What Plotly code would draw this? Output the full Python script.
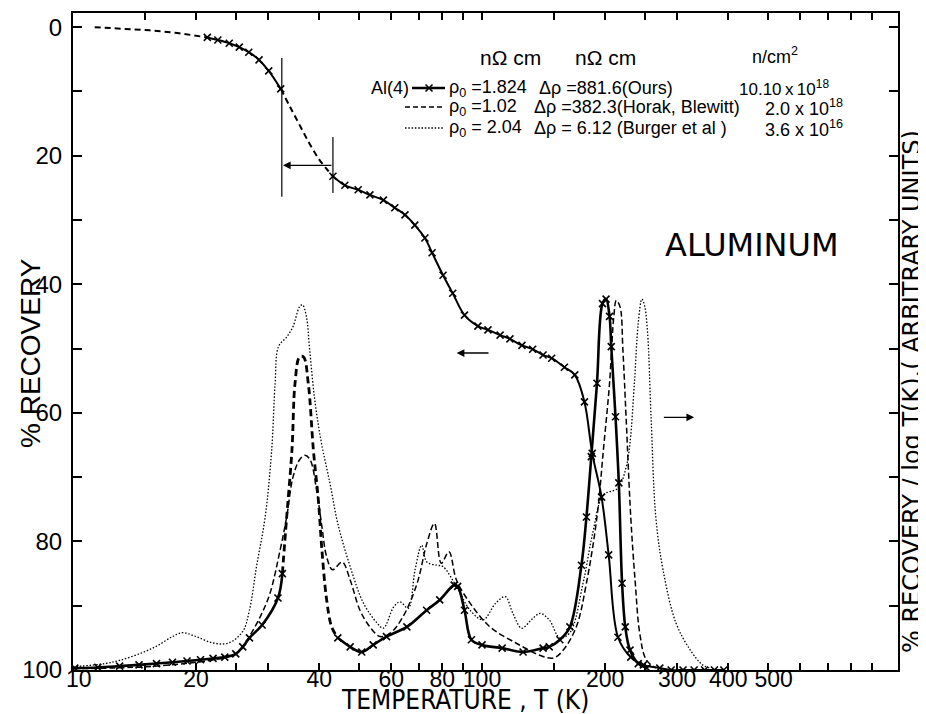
import math
import plotly.graph_objects as go

# ---------------- data ----------------
# Isochronal recovery curve (left axis, % recovery), "Ours"
rec_dash1_T = [11.3, 15.4, 18.0, 21.3]
rec_dash1_v = [0.0, 0.5, 0.9, 1.6]
rec_solid1_T = [21.3, 22.6, 24.1, 25.5, 26.9, 28.5, 30.1, 32.2]
rec_solid1_v = [1.6, 2.0, 2.5, 3.1, 3.9, 5.1, 6.8, 9.6]
rec_dash2_T = [32.2, 34, 36, 38, 40, 42, 43.2]
rec_dash2_v = [9.6, 12.5, 15.5, 18.3, 20.6, 22.3, 23.2]
rec_solid2_T = [43.2, 46.2, 49.8, 53.2, 57.4, 61.2, 64.8, 68.5, 72.5, 75.5, 80.3, 84.8,
                90.6, 97.7, 103.4, 110.7, 117, 125.2, 133, 141, 148, 159, 168.6, 178,
                186, 196, 204, 215, 231, 248, 272, 290, 310, 330, 350, 370, 390]
rec_solid2_v = [23.2, 24.6, 25.3, 26.1, 26.9, 28.1, 29.2, 30.8, 32.8, 35.1, 38.6, 41.4,
                44.8, 46.5, 47.1, 47.9, 48.5, 49.5, 50.1, 51.0, 51.5, 52.9, 54.1, 58.3,
                66.3, 73.1, 82.1, 94.9, 98.0, 99.2, 99.7, 100, 100, 100, 100, 100, 100]

# d(recovery)/d(log T), arbitrary units (right axis)
ours_s1_T = [10.1, 11.5, 13, 14.5, 16, 17.5, 19, 20.5, 22, 23.5, 25, 26, 27, 29, 31.7, 32.5]
ours_s1_d = [0.3, 0.4, 0.6, 0.8, 1.0, 1.2, 1.4, 1.6, 1.8, 2.0, 2.5, 3.6, 5.0, 7.0, 11.2, 15.0]
ours_dash_T = [32.5, 33.3, 34.3, 34.9, 35.8, 36.6, 37.6, 38.7, 39.8, 40.6, 41.7, 42.9, 44.4]
ours_dash_d = [15.0, 23.8, 34.2, 44.6, 48.7, 48.7, 44.6, 34.2, 26.4, 18.7, 10.9, 6.7, 5.0]
ours_s2_T = [44.4, 47.6, 50.8, 54.2, 58.4, 65.5, 73.2, 78.8, 85.5, 87.2, 90.6, 94.2, 100,
             112, 126, 141, 146, 155, 164, 175, 180, 185, 191, 197, 201, 205, 207, 212,
             216, 220, 224, 230, 241, 253]
ours_s2_d = [5.0, 3.6, 2.8, 3.9, 5.2, 6.7, 9.3, 10.9, 13.2, 13.0, 9.3, 4.7, 3.9, 3.4,
             2.8, 3.4, 3.6, 4.7, 6.7, 16.3, 23.8, 33.2, 44.6, 57.0, 57.7, 55.0, 50.3,
             39.4, 29.1, 13.5, 6.7, 3.1, 1.0, 0.3]

horak_T = [10, 15, 20, 23, 25, 26, 27, 28.7, 30.3, 32.1, 33.3, 34.5, 35.8, 36.9, 38, 39.4,
           40.6, 41.7, 43.1, 45.5, 47.6, 50.3, 53.2, 56.3, 59.6, 64.1, 69.4, 73.3, 76.5,
           79.5, 83, 86.6, 93.5, 104.6, 121, 141, 150, 158, 170, 180, 191, 198, 205, 210,
           213, 217.5, 221, 225, 231, 237, 243, 252, 266]
horak_d = [0.2, 0.5, 1.2, 1.8, 2.5, 3.5, 5.2, 8.3, 11.9, 18.7, 23.8, 30, 32.7, 33.4, 32.7,
           28, 22.3, 17.6, 15.6, 16.8, 14, 9.3, 6.7, 5.2, 5.7, 8.3, 13.5, 19.7, 22.8,
           16.6, 18.4, 14, 10.4, 6.7, 4.2, 2.1, 1.9, 3.1, 6.7, 13.5, 23.8, 34.2, 44.6,
           55, 57.5, 56.5, 49.8, 39.4, 23.8, 13.5, 5.7, 1.6, 0.3]

burger_T = [10, 12, 13, 14.5, 16, 17.5, 18.5, 20, 22, 24, 26, 27, 28.1, 29.5, 30.6, 31.2,
            31.8, 33.3, 34.5, 35.8, 36.4, 37.2, 37.9, 39, 40.5, 42.5, 44.4, 47.6, 51.3,
            55.4, 57.4, 60.8, 63, 66, 68.6, 71.2, 73.3, 77.5, 80.2, 86.6, 93.5, 100.6,
            108, 114, 119, 125, 132, 138.6, 146, 155, 164, 176.6, 186.5, 198, 215, 225,
            230, 236, 241, 246, 250, 254, 259, 266, 277, 298, 323, 346, 360]
burger_d = [0.5, 1, 1.5, 2.5, 3.7, 5.2, 5.8, 5.2, 4.2, 4.2, 6, 9.3, 16.1, 23.8, 34.2, 44.6,
            50.3, 51.8, 53.4, 56.5, 56.8, 55, 49.8, 42, 35.3, 29, 22.8, 16.1, 10.4, 7.3,
            6.5, 9.8, 10.6, 9.6, 15.6, 19.4, 16.8, 16.3, 16.1, 13, 9.3, 7.8, 10.4, 11.4,
            8.8, 6.5, 7.8, 8.8, 7.8, 5, 5.8, 13.5, 21.3, 27.2, 28.3, 31.5, 35.3, 45, 54,
            57.7, 56.5, 52.4, 39.4, 23.8, 15.6, 7.3, 3.1, 0.8, 0.3]

x_tickvals = [10, 15, 20, 25, 30, 40, 50, 60, 70, 80, 90, 100, 150, 200, 250, 300, 400,
              500, 600, 700, 800, 900]
x_ticklabels = {10: "\u200210", 20: "20", 40: "40", 60: "60", 80: "80", 100: "100",
                200: "200", 300: "300", 400: "400", 500: "\u2002500"}
y_tickvals = [0, 10, 20, 30, 40, 50, 60, 70, 80, 90, 100]
y_labeled = [0, 20, 40, 60, 80, 100]

# bracket marks and arrows
bracket1_T, bracket1_v = [32.4, 32.4], [4.8, 26.4]
bracket2_T, bracket2_v = [43.2, 43.2], [17.1, 25.8]

# ---------------- figure ----------------
# the page body has an 8px margin; figure sized so the plot area lands at
# x 73..898, y 13..670 of the 926x714 window
OFF = 8
W, H = 926 - OFF, 714 - OFF
PL, PR, PT, PB = 73, 898, 13, 670          # plot area in window pixels
L, R, T_, B = PL - OFF, W + OFF - PR, PT - OFF, H + OFF - PB
FONT = "Liberation Sans, Arial, sans-serif"
NARROW = "Liberation Sans Narrow, DejaVu Sans Condensed, Liberation Sans, sans-serif"
WIDE = "DejaVu Sans, Liberation Sans, sans-serif"
BLK = "black"

fig = go.Figure()

mk = dict(symbol="x-thin", size=7, color=BLK, line=dict(width=1.6, color=BLK))

# Recovery curve
fig.add_trace(go.Scatter(x=rec_dash1_T, y=rec_dash1_v, mode="lines",
                         line=dict(color=BLK, width=2, dash="6px,4px")))
fig.add_trace(go.Scatter(x=rec_solid1_T, y=rec_solid1_v, mode="lines+markers",
                         line=dict(color=BLK, width=2, shape="spline"), marker=mk))
fig.add_trace(go.Scatter(x=rec_dash2_T, y=rec_dash2_v, mode="lines",
                         line=dict(color=BLK, width=2, dash="6px,4px", shape="spline")))
fig.add_trace(go.Scatter(x=rec_solid2_T, y=rec_solid2_v, mode="lines+markers",
                         line=dict(color=BLK, width=2, shape="spline"), marker=mk))

# Derivative curves on y2
fig.add_trace(go.Scatter(x=ours_s1_T, y=ours_s1_d, yaxis="y2", mode="lines+markers",
                         line=dict(color=BLK, width=2.6, shape="spline"), marker=mk))
fig.add_trace(go.Scatter(x=ours_dash_T, y=ours_dash_d, yaxis="y2", mode="lines",
                         line=dict(color=BLK, width=2.8, dash="7px,4px", shape="spline")))
fig.add_trace(go.Scatter(x=ours_s2_T, y=ours_s2_d, yaxis="y2", mode="lines+markers",
                         line=dict(color=BLK, width=2.6, shape="spline"), marker=mk))
fig.add_trace(go.Scatter(x=horak_T, y=horak_d, yaxis="y2", mode="lines",
                         line=dict(color=BLK, width=1.5, dash="6px,3px", shape="spline")))
fig.add_trace(go.Scatter(x=burger_T, y=burger_d, yaxis="y2", mode="lines",
                         line=dict(color=BLK, width=1.3, dash="1.5px,1.8px", shape="spline")))

# bracket lines
for bt, bv in [(bracket1_T, bracket1_v), (bracket2_T, bracket2_v)]:
    fig.add_trace(go.Scatter(x=bt, y=bv, mode="lines", line=dict(color=BLK, width=1.2)))

# window pixel -> paper coordinates
def px2x(px):
    return (px - PL) / (PR - PL)

def py2y(py):
    return (PB - py) / (PB - PT)

# legend samples (overlay axes in paper-like units)
fig.add_trace(go.Scatter(x=[px2x(412), px2x(445)], y=[py2y(88)] * 2, xaxis="x3", yaxis="y3",
                         mode="lines", line=dict(color=BLK, width=2.4)))
fig.add_trace(go.Scatter(x=[px2x(429)], y=[py2y(88)], xaxis="x3", yaxis="y3",
                         mode="markers", marker=mk))
fig.add_trace(go.Scatter(x=[px2x(405), px2x(443)], y=[py2y(107)] * 2, xaxis="x3", yaxis="y3",
                         mode="lines", line=dict(color=BLK, width=1.5, dash="5px,3px")))
fig.add_trace(go.Scatter(x=[px2x(405), px2x(443)], y=[py2y(128)] * 2, xaxis="x3", yaxis="y3",
                         mode="lines", line=dict(color=BLK, width=1.3, dash="1.5px,1.8px")))

ann = []

def txt(px, py, s, size=18, anchor="left", family=FONT, angle=0):
    ann.append(dict(x=px2x(px), y=py2y(py), xref="paper", yref="paper", text=s,
                    showarrow=False, xanchor=anchor, yanchor="middle", textangle=angle,
                    borderpad=0,
                    font=dict(family=family, size=size, color=BLK)))

# legend texts
txt(510, 57, "nΩ cm", size=21, anchor="center")
txt(605, 57, "nΩ cm", size=21, anchor="center")
txt(775, 55, "n/cm<sup>2</sup>", anchor="center")
txt(410, 88, "Al(4)", anchor="right")
txt(448, 88, "ρ<sub>0</sub> =1.824")
txt(538, 88, "Δρ =881.6(Ours)")
txt(738, 88, "10.10\u2009x\u200910<sup>18</sup>", size=17)
txt(448, 107, "ρ<sub>0</sub> =1.02")
txt(533, 107, "Δρ =382.3(Horak, Blewitt)")
txt(764, 107, "2.0 x 10<sup>18</sup>")
txt(448, 128, "ρ<sub>0</sub> = 2.04")
txt(533, 128, "Δρ = 6.12 (Burger et al )")
txt(764, 128, "3.6 x 10<sup>16</sup>")

txt(752, 245, "ALUMINUM", size=32, anchor="center", family=WIDE)
txt(465, 700, "TEMPERATURE , T (K)", size=26, anchor="center", family=NARROW)
txt(30, 353, "% RECOVERY", size=28, anchor="center", angle=-90)
txt(912, 392, "% RECOVERY / log T(K).( ARBITRARY UNITS)", size=24, anchor="center",
    family=WIDE, angle=-90)

# arrows (log axis -> annotation x in log10 units)
def arrow(t_head, v_head, t_tail, v_tail):
    ann.append(dict(x=math.log10(t_head), y=v_head, ax=math.log10(t_tail), ay=v_tail,
                    xref="x", yref="y", axref="x", ayref="y", showarrow=True,
                    arrowhead=2, arrowsize=1.1, arrowwidth=1.4, arrowcolor=BLK, text=""))

arrow(32.6, 21.5, 43.2, 21.5)
arrow(86.7, 50.7, 104.6, 50.7)
arrow(330, 60.7, 276, 60.7)

xticktext = [x_ticklabels.get(v, "") for v in x_tickvals]
yticktext = [str(v) if v in y_labeled else "" for v in y_tickvals]

fig.update_layout(
    width=W, height=H, autosize=False,
    margin=dict(l=L, r=R, t=T_, b=B, pad=0, autoexpand=False),
    paper_bgcolor="white", plot_bgcolor="white",
    showlegend=False,
    font=dict(family=FONT, color=BLK),
    xaxis=dict(type="log", range=[1.0, 3.017], tickvals=x_tickvals, ticktext=xticktext,
               ticks="inside", ticklen=7, tickwidth=1.5, tickcolor=BLK, tickangle=0,
               showline=True, linewidth=2, linecolor=BLK, mirror="ticks",
               showgrid=False, zeroline=False, ticklabelstandoff=-13, automargin=False,
               tickfont=dict(family=FONT, size=23, color=BLK)),
    yaxis=dict(range=[100, -2.2], tickvals=y_tickvals, ticktext=yticktext,
               ticks="inside", ticklen=9, tickwidth=1.5, tickcolor=BLK,
               showline=True, linewidth=2, linecolor=BLK, mirror="ticks",
               showgrid=False, zeroline=False, ticklabelstandoff=4, automargin=False,
               tickfont=dict(family=FONT, size=24, color=BLK)),
    yaxis2=dict(range=[0, 102.2], overlaying="y", side="right", showticklabels=False,
                ticks="", showline=False, showgrid=False, zeroline=False, automargin=False),
    xaxis3=dict(range=[0, 1], overlaying="x", visible=False),
    yaxis3=dict(range=[0, 1], overlaying="y", visible=False),
    annotations=ann,
)

fig.write_html("out.html")
